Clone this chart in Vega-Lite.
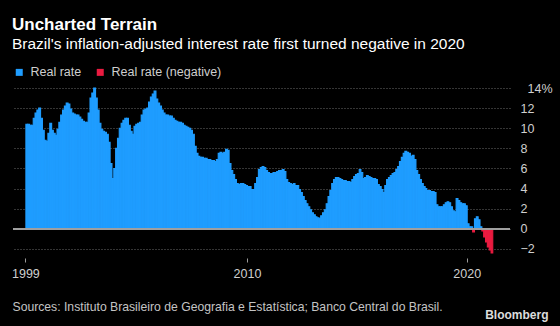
{
  "$schema": "https://vega.github.io/schema/vega-lite/v6.json",
  "autosize": {"type": "none"},
  "width": 497,
  "height": 167,
  "padding": {"left": 13, "top": 88, "right": 50, "bottom": 71},
  "background": "#000000",
  "title": {
    "text": "Uncharted Terrain",
    "subtitle": "Brazil's inflation-adjusted interest rate first turned negative in 2020",
    "anchor": "start",
    "frame": "group",
    "offset": 13,
    "dx": -1,
    "font": "Liberation Sans",
    "fontSize": 17,
    "fontWeight": "bold",
    "color": "#ffffff",
    "subtitleFont": "Liberation Sans",
    "subtitleFontSize": 15.5,
    "subtitleColor": "#ffffff",
    "subtitlePadding": 3
  },
  "data": {
    "values": [
      {"d": "1999-12-01", "v": 10.4},
      {"d": "2000-01-01", "v": 10.4}, {"d": "2000-02-01", "v": 10.3}, {"d": "2000-03-01", "v": 10.3}, {"d": "2000-04-01", "v": 11.0}, {"d": "2000-05-01", "v": 11.5}, {"d": "2000-06-01", "v": 11.8}, {"d": "2000-07-01", "v": 12.0}, {"d": "2000-08-01", "v": 11.0}, {"d": "2000-09-01", "v": 9.8}, {"d": "2000-10-01", "v": 8.8}, {"d": "2000-11-01", "v": 8.7}, {"d": "2000-12-01", "v": 9.5},
      {"d": "2001-01-01", "v": 10.5}, {"d": "2001-02-01", "v": 9.8}, {"d": "2001-03-01", "v": 9.5}, {"d": "2001-04-01", "v": 9.3}, {"d": "2001-05-01", "v": 9.9}, {"d": "2001-06-01", "v": 10.6}, {"d": "2001-07-01", "v": 11.3}, {"d": "2001-08-01", "v": 11.8}, {"d": "2001-09-01", "v": 12.2}, {"d": "2001-10-01", "v": 12.5}, {"d": "2001-11-01", "v": 12.4}, {"d": "2001-12-01", "v": 11.9},
      {"d": "2002-01-01", "v": 11.5}, {"d": "2002-02-01", "v": 11.4}, {"d": "2002-03-01", "v": 11.3}, {"d": "2002-04-01", "v": 11.3}, {"d": "2002-05-01", "v": 11.1}, {"d": "2002-06-01", "v": 10.9}, {"d": "2002-07-01", "v": 10.7}, {"d": "2002-08-01", "v": 10.6}, {"d": "2002-09-01", "v": 10.6}, {"d": "2002-10-01", "v": 11.5}, {"d": "2002-11-01", "v": 13.0}, {"d": "2002-12-01", "v": 13.5},
      {"d": "2003-01-01", "v": 14.0}, {"d": "2003-02-01", "v": 13.0}, {"d": "2003-03-01", "v": 11.8}, {"d": "2003-04-01", "v": 10.5}, {"d": "2003-05-01", "v": 9.9}, {"d": "2003-06-01", "v": 9.7}, {"d": "2003-07-01", "v": 9.6}, {"d": "2003-08-01", "v": 9.4}, {"d": "2003-09-01", "v": 8.6}, {"d": "2003-10-01", "v": 6.5}, {"d": "2003-11-01", "v": 5.0}, {"d": "2003-12-01", "v": 6.0},
      {"d": "2004-01-01", "v": 8.0}, {"d": "2004-02-01", "v": 9.0}, {"d": "2004-03-01", "v": 10.0}, {"d": "2004-04-01", "v": 10.5}, {"d": "2004-05-01", "v": 10.8}, {"d": "2004-06-01", "v": 11.0}, {"d": "2004-07-01", "v": 11.0}, {"d": "2004-08-01", "v": 10.3}, {"d": "2004-09-01", "v": 9.7}, {"d": "2004-10-01", "v": 9.4}, {"d": "2004-11-01", "v": 10.2}, {"d": "2004-12-01", "v": 10.4},
      {"d": "2005-01-01", "v": 10.5}, {"d": "2005-02-01", "v": 10.6}, {"d": "2005-03-01", "v": 11.3}, {"d": "2005-04-01", "v": 11.8}, {"d": "2005-05-01", "v": 11.9}, {"d": "2005-06-01", "v": 12.0}, {"d": "2005-07-01", "v": 12.6}, {"d": "2005-08-01", "v": 13.1}, {"d": "2005-09-01", "v": 13.4}, {"d": "2005-10-01", "v": 13.7}, {"d": "2005-11-01", "v": 12.9}, {"d": "2005-12-01", "v": 12.5},
      {"d": "2006-01-01", "v": 12.2}, {"d": "2006-02-01", "v": 11.8}, {"d": "2006-03-01", "v": 11.5}, {"d": "2006-04-01", "v": 11.3}, {"d": "2006-05-01", "v": 11.3}, {"d": "2006-06-01", "v": 11.2}, {"d": "2006-07-01", "v": 11.2}, {"d": "2006-08-01", "v": 11.0}, {"d": "2006-09-01", "v": 10.8}, {"d": "2006-10-01", "v": 10.7}, {"d": "2006-11-01", "v": 10.6}, {"d": "2006-12-01", "v": 10.6},
      {"d": "2007-01-01", "v": 10.5}, {"d": "2007-02-01", "v": 10.3}, {"d": "2007-03-01", "v": 10.2}, {"d": "2007-04-01", "v": 10.1}, {"d": "2007-05-01", "v": 10.0}, {"d": "2007-06-01", "v": 9.8}, {"d": "2007-07-01", "v": 9.4}, {"d": "2007-08-01", "v": 8.2}, {"d": "2007-09-01", "v": 7.5}, {"d": "2007-10-01", "v": 7.2}, {"d": "2007-11-01", "v": 7.1}, {"d": "2007-12-01", "v": 7.1},
      {"d": "2008-01-01", "v": 7.0}, {"d": "2008-02-01", "v": 7.0}, {"d": "2008-03-01", "v": 6.9}, {"d": "2008-04-01", "v": 6.9}, {"d": "2008-05-01", "v": 6.8}, {"d": "2008-06-01", "v": 6.8}, {"d": "2008-07-01", "v": 6.7}, {"d": "2008-08-01", "v": 6.9}, {"d": "2008-09-01", "v": 7.5}, {"d": "2008-10-01", "v": 7.6}, {"d": "2008-11-01", "v": 7.5}, {"d": "2008-12-01", "v": 7.6},
      {"d": "2009-01-01", "v": 7.9}, {"d": "2009-02-01", "v": 7.8}, {"d": "2009-03-01", "v": 6.5}, {"d": "2009-04-01", "v": 5.8}, {"d": "2009-05-01", "v": 5.4}, {"d": "2009-06-01", "v": 4.9}, {"d": "2009-07-01", "v": 4.5}, {"d": "2009-08-01", "v": 4.4}, {"d": "2009-09-01", "v": 4.5}, {"d": "2009-10-01", "v": 4.5}, {"d": "2009-11-01", "v": 4.4}, {"d": "2009-12-01", "v": 4.3},
      {"d": "2010-01-01", "v": 4.2}, {"d": "2010-02-01", "v": 4.2}, {"d": "2010-03-01", "v": 3.9}, {"d": "2010-04-01", "v": 3.9}, {"d": "2010-05-01", "v": 4.5}, {"d": "2010-06-01", "v": 5.1}, {"d": "2010-07-01", "v": 5.9}, {"d": "2010-08-01", "v": 6.1}, {"d": "2010-09-01", "v": 6.2}, {"d": "2010-10-01", "v": 6.1}, {"d": "2010-11-01", "v": 5.8}, {"d": "2010-12-01", "v": 5.6},
      {"d": "2011-01-01", "v": 5.5}, {"d": "2011-02-01", "v": 5.5}, {"d": "2011-03-01", "v": 5.6}, {"d": "2011-04-01", "v": 5.6}, {"d": "2011-05-01", "v": 5.7}, {"d": "2011-06-01", "v": 5.8}, {"d": "2011-07-01", "v": 5.8}, {"d": "2011-08-01", "v": 5.9}, {"d": "2011-09-01", "v": 5.7}, {"d": "2011-10-01", "v": 4.9}, {"d": "2011-11-01", "v": 4.6}, {"d": "2011-12-01", "v": 4.5},
      {"d": "2012-01-01", "v": 4.4}, {"d": "2012-02-01", "v": 4.5}, {"d": "2012-03-01", "v": 4.3}, {"d": "2012-04-01", "v": 4.3}, {"d": "2012-05-01", "v": 3.9}, {"d": "2012-06-01", "v": 3.6}, {"d": "2012-07-01", "v": 3.2}, {"d": "2012-08-01", "v": 2.8}, {"d": "2012-09-01", "v": 2.5}, {"d": "2012-10-01", "v": 2.2}, {"d": "2012-11-01", "v": 1.9}, {"d": "2012-12-01", "v": 1.6},
      {"d": "2013-01-01", "v": 1.4}, {"d": "2013-02-01", "v": 1.2}, {"d": "2013-03-01", "v": 1.1}, {"d": "2013-04-01", "v": 1.05}, {"d": "2013-05-01", "v": 1.3}, {"d": "2013-06-01", "v": 1.6}, {"d": "2013-07-01", "v": 1.9}, {"d": "2013-08-01", "v": 2.5}, {"d": "2013-09-01", "v": 3.2}, {"d": "2013-10-01", "v": 3.8}, {"d": "2013-11-01", "v": 4.5}, {"d": "2013-12-01", "v": 4.9},
      {"d": "2014-01-01", "v": 5.1}, {"d": "2014-02-01", "v": 5.1}, {"d": "2014-03-01", "v": 5.0}, {"d": "2014-04-01", "v": 4.9}, {"d": "2014-05-01", "v": 4.8}, {"d": "2014-06-01", "v": 4.8}, {"d": "2014-07-01", "v": 4.7}, {"d": "2014-08-01", "v": 4.7}, {"d": "2014-09-01", "v": 4.6}, {"d": "2014-10-01", "v": 4.9}, {"d": "2014-11-01", "v": 5.2}, {"d": "2014-12-01", "v": 5.4},
      {"d": "2015-01-01", "v": 5.5}, {"d": "2015-02-01", "v": 5.9}, {"d": "2015-03-01", "v": 5.6}, {"d": "2015-04-01", "v": 5.0}, {"d": "2015-05-01", "v": 5.1}, {"d": "2015-06-01", "v": 5.3}, {"d": "2015-07-01", "v": 5.2}, {"d": "2015-08-01", "v": 5.1}, {"d": "2015-09-01", "v": 5.0}, {"d": "2015-10-01", "v": 5.0}, {"d": "2015-11-01", "v": 4.9}, {"d": "2015-12-01", "v": 4.4},
      {"d": "2016-01-01", "v": 4.2}, {"d": "2016-02-01", "v": 3.9}, {"d": "2016-03-01", "v": 3.6}, {"d": "2016-04-01", "v": 4.3}, {"d": "2016-05-01", "v": 4.9}, {"d": "2016-06-01", "v": 5.1}, {"d": "2016-07-01", "v": 5.3}, {"d": "2016-08-01", "v": 5.5}, {"d": "2016-09-01", "v": 5.6}, {"d": "2016-10-01", "v": 5.9}, {"d": "2016-11-01", "v": 6.2}, {"d": "2016-12-01", "v": 6.7},
      {"d": "2017-01-01", "v": 7.1}, {"d": "2017-02-01", "v": 7.5}, {"d": "2017-03-01", "v": 7.7}, {"d": "2017-04-01", "v": 7.6}, {"d": "2017-05-01", "v": 7.5}, {"d": "2017-06-01", "v": 7.2}, {"d": "2017-07-01", "v": 7.3}, {"d": "2017-08-01", "v": 6.9}, {"d": "2017-09-01", "v": 5.8}, {"d": "2017-10-01", "v": 5.4}, {"d": "2017-11-01", "v": 4.9}, {"d": "2017-12-01", "v": 4.5},
      {"d": "2018-01-01", "v": 4.2}, {"d": "2018-02-01", "v": 4.0}, {"d": "2018-03-01", "v": 3.8}, {"d": "2018-04-01", "v": 3.8}, {"d": "2018-05-01", "v": 3.7}, {"d": "2018-06-01", "v": 3.7}, {"d": "2018-07-01", "v": 3.6}, {"d": "2018-08-01", "v": 2.4}, {"d": "2018-09-01", "v": 2.2}, {"d": "2018-10-01", "v": 2.2}, {"d": "2018-11-01", "v": 2.2}, {"d": "2018-12-01", "v": 2.4},
      {"d": "2019-01-01", "v": 2.6}, {"d": "2019-02-01", "v": 2.7}, {"d": "2019-03-01", "v": 2.6}, {"d": "2019-04-01", "v": 2.2}, {"d": "2019-05-01", "v": 1.8}, {"d": "2019-06-01", "v": 1.7}, {"d": "2019-07-01", "v": 3.0}, {"d": "2019-08-01", "v": 2.8}, {"d": "2019-09-01", "v": 2.6}, {"d": "2019-10-01", "v": 2.5}, {"d": "2019-11-01", "v": 2.5}, {"d": "2019-12-01", "v": 2.3},
      {"d": "2020-01-01", "v": 0.5}, {"d": "2020-02-01", "v": 0.2}, {"d": "2020-03-01", "v": 0.2}, {"d": "2020-04-01", "v": -0.3}, {"d": "2020-05-01", "v": 1.0}, {"d": "2020-06-01", "v": 1.2}, {"d": "2020-07-01", "v": 0.9}, {"d": "2020-08-01", "v": 0.2}, {"d": "2020-09-01", "v": -0.2}, {"d": "2020-10-01", "v": -0.8}, {"d": "2020-11-01", "v": -1.3}, {"d": "2020-12-01", "v": -1.8},
      {"d": "2021-01-01", "v": -2.1}, {"d": "2021-02-01", "v": -2.4}
    ]
  },
  "transform": [
    {"calculate": "datum.v < 0 ? 'Real rate (negative)' : 'Real rate'", "as": "series"}
  ],
  "layer": [
    {
      "mark": {"type": "bar", "strokeWidth": 1.1, "binSpacing": 0},
      "encoding": {
        "x": {
          "field": "d",
          "type": "temporal",
          "timeUnit": "utcyearmonth",
          "scale": {
            "type": "utc",
            "domain": [
              {"year": 1999, "month": 5, "date": 9, "utc": true},
              {"year": 2021, "month": 12, "date": 21, "utc": true}
            ]
          },
          "axis": {
            "values": [
              {"year": 1999, "month": 12, "date": 1, "utc": true},
              {"year": 2010, "month": 1, "date": 1, "utc": true},
              {"year": 2020, "month": 1, "date": 1, "utc": true}
            ],
            "format": "%Y",
            "tickCount": 30,
            "domain": false,
            "grid": false,
            "offset": 3,
            "tickSize": 4,
            "tickColor": "#9a9a9a",
            "labelColor": "#cfcfcf",
            "labelFontSize": 12.5,
            "labelPadding": 5,
            "labelFlush": false,
            "labelOverlap": false,
            "title": "Sources: Instituto Brasileiro de Geografia e Estatística; Banco Central do Brasil.",
            "titleAnchor": "start",
            "titleAlign": "left",
            "titleBaseline": "alphabetic",
            "titleX": -1,
            "titleY": 52,
            "titleFontSize": 12.2,
            "titleFontWeight": "normal",
            "titleColor": "#c4c4c4"
          }
        },
        "y": {
          "field": "v",
          "type": "quantitative",
          "scale": {"domain": [-2.6, 14], "nice": false, "zero": false},
          "axis": {
            "orient": "right",
            "values": [-2, 0, 2, 4, 6, 8, 10, 12, 14],
            "tickCount": 30,
            "format": "d",
            "labelExpr": "datum.value == 14 ? '14%' : datum.label",
            "labelOverlap": false,
            "domain": false,
            "ticks": false,
            "grid": true,
            "gridColor": "#6a6a6a",
            "gridDash": [1, 2],
            "gridWidth": 1,
            "labelAlign": "left",
            "labelBaseline": "middle",
            "labelPadding": {"condition": {"test": "datum.value == 14", "value": 17}, "value": 10},
            "labelColor": "#cfcfcf",
            "labelFontSize": 12.5,
            "title": "Bloomberg",
            "titleAngle": 0,
            "titleAlign": "right",
            "titleBaseline": "alphabetic",
            "titleX": 38,
            "titleY": 230,
            "titleFont": "Liberation Sans",
            "titleFontSize": 12,
            "titleFontWeight": "bold",
            "titleColor": "#dcdcdc"
          }
        },
        "color": {
          "field": "series",
          "type": "nominal",
          "scale": {"domain": ["Real rate", "Real rate (negative)"], "range": ["#1f9dff", "#ea1b40"]},
          "legend": {
            "orient": "none",
            "legendX": 0,
            "legendY": -22,
            "direction": "horizontal",
            "title": null,
            "symbolType": "square",
            "symbolSize": 49,
            "symbolStrokeWidth": 0,
            "labelColor": "#cfcfcf",
            "labelFontSize": 12.5,
            "labelOffset": 5,
            "columnPadding": 12,
            "padding": 0
          }
        },
        "stroke": {"field": "series", "type": "nominal", "legend": null, "scale": {"domain": ["Real rate", "Real rate (negative)"], "range": ["#1f9dff", "#ea1b40"]}}
      }
    },
    {
      "mark": {"type": "rule", "color": "#a0a0a0", "strokeWidth": 1},
      "encoding": {"y": {"datum": 0}}
    }
  ],
  "config": {
    "font": "Liberation Sans",
    "view": {"stroke": null},
    "axis": {"labelFont": "Liberation Sans", "titleFont": "Liberation Sans"},
    "legend": {"labelFont": "Liberation Sans"}
  }
}
